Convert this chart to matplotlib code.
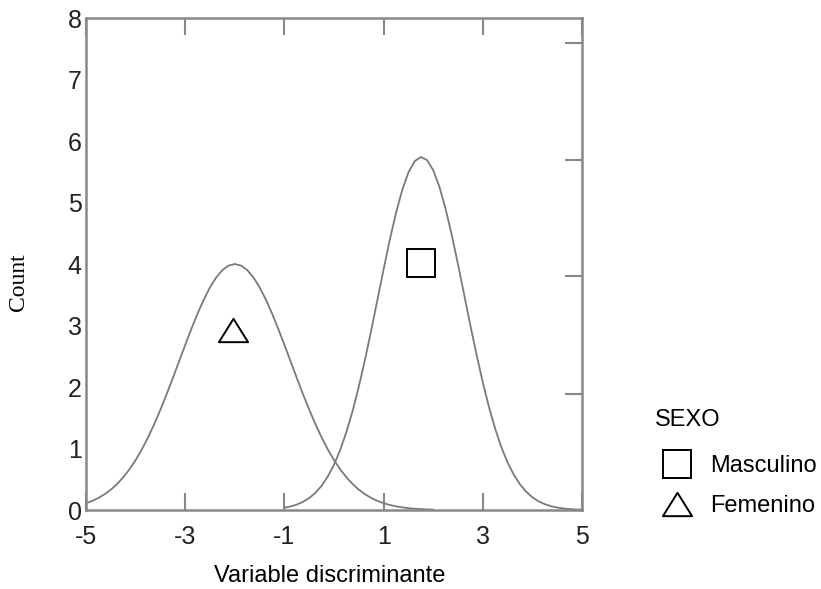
import matplotlib
matplotlib.use("Agg")
import matplotlib.pyplot as plt
from matplotlib.path import Path
import numpy as np

# Curva del grupo Femenino (cada 0.125 entre -5 y 2)
x_fem = np.linspace(-5.0, 2.0, 57)
y_fem = [0.111, 0.148, 0.196, 0.257, 0.331, 0.422, 0.532, 0.661, 0.812, 0.985,
         1.180, 1.396, 1.632, 1.883, 2.146, 2.416, 2.685, 2.948, 3.196, 3.423,
         3.621, 3.782, 3.902, 3.975, 4.000, 3.975, 3.902, 3.782, 3.621, 3.423,
         3.196, 2.948, 2.685, 2.416, 2.146, 1.883, 1.632, 1.396, 1.180, 0.985,
         0.812, 0.661, 0.532, 0.422, 0.331, 0.257, 0.196, 0.148, 0.111, 0.082,
         0.059, 0.043, 0.030, 0.021, 0.015, 0.010, 0.007]

# Curva del grupo Masculino (cada 0.125 entre -1 y 5)
x_mas = np.linspace(-1.0, 5.0, 49)
y_mas = [0.037, 0.058, 0.089, 0.133, 0.195, 0.280, 0.395, 0.546, 0.738, 0.978,
         1.268, 1.612, 2.006, 2.446, 2.921, 3.417, 3.915, 4.395, 4.832, 5.203,
         5.489, 5.671, 5.740, 5.690, 5.525, 5.255, 4.896, 4.468, 3.994, 3.497,
         2.999, 2.520, 2.074, 1.671, 1.320, 1.020, 0.773, 0.573, 0.417, 0.297,
         0.207, 0.141, 0.095, 0.062, 0.040, 0.025, 0.015, 0.009, 0.005]

# Centroides de los grupos
grupos = ["Masculino", "Femenino"]
centro_x = [1.75, -2.04]
centro_y = [4.02, 2.93]

x_ticks = [-5, -3, -1, 1, 3, 5]
y_ticks = [0, 1, 2, 3, 4, 5, 6, 7, 8]
right_ticks = [1.89, 3.8, 5.69, 7.59]

gris = "#888888"
triangulo = Path([(-1, -0.8), (1, -0.8), (0, 0.8), (-1, -0.8)],
                 [Path.MOVETO, Path.LINETO, Path.LINETO, Path.CLOSEPOLY])

plt.rcParams["font.family"] = ["Liberation Sans", "DejaVu Sans"]
plt.rcParams["axes.unicode_minus"] = False

fig = plt.figure(figsize=(8.21, 5.89), dpi=100)
ax = fig.add_axes([0.1048, 0.1341, 0.6041, 0.8353])

ax.plot(x_fem, y_fem, color="#7a7a7a", linewidth=1.3)
ax.plot(x_mas, y_mas, color="#7a7a7a", linewidth=1.3)

h_mas, = ax.plot(centro_x[0], centro_y[0], linestyle="none", marker="s", markersize=19.5,
                 markerfacecolor="white", markeredgecolor="black", markeredgewidth=1.4)
h_fem, = ax.plot(centro_x[1], centro_y[1], linestyle="none", marker=triangulo, markersize=21,
                 markerfacecolor="white", markeredgecolor="black", markeredgewidth=1.4)

ax.set_xlim(-5, 5)
ax.set_ylim(0, 8)
ax.set_xticks(x_ticks)
ax.set_yticks(y_ticks)
ax.tick_params(axis="both", direction="in", length=12, width=1.5, color=gris,
               labelsize=18, labelcolor="#222222")
ax.tick_params(axis="x", pad=11, top=True)
ax.tick_params(axis="y", pad=3)
for s in ax.spines.values():
    s.set_color(gris)
    s.set_linewidth(1.8)

# marcas del eje derecho (sin etiquetas)
ax2 = ax.twinx()
ax2.set_ylim(0, 8)
ax2.set_yticks(right_ticks)
ax2.set_yticklabels([])
ax2.tick_params(axis="y", direction="in", length=12, width=1.5, color=gris)
for s in ax2.spines.values():
    s.set_visible(False)

# quitar marcas de los extremos
for t in ax.xaxis.get_major_ticks():
    if t.get_loc() in (-5, 5):
        t.tick2line.set_visible(False)
for t in ax.yaxis.get_major_ticks():
    if t.get_loc() in (0, 8):
        t.tick1line.set_visible(False)

fig.text(0.401, 0.0119, "Variable discriminante", fontsize=17, ha="center", va="baseline")
fig.text(0.022, 0.521, "Count", fontsize=17, rotation=90, ha="center", va="center",
         family=["Liberation Serif", "DejaVu Serif"])

# leyenda
fig.text(655 / 821, 1 - 420 / 589, "SEXO", fontsize=17, ha="left", va="center")
leg = fig.legend([h_mas, h_fem], grupos, loc="upper left",
                 bbox_to_anchor=(0.7963, 0.2275), frameon=False, fontsize=17,
                 handletextpad=0.4, labelspacing=0.78, borderaxespad=0, borderpad=0)

fig.savefig("out.png", dpi=100)
